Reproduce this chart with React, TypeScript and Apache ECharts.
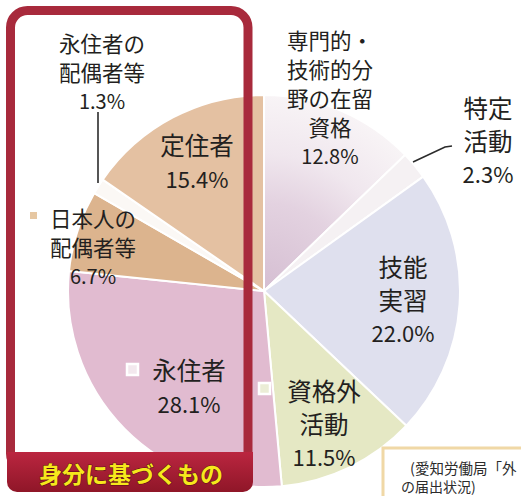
import React, { useEffect, useRef } from "react";
import * as echarts from "echarts";

// ---- data ----
const categories = [
  "専門的・\n技術的分\n野の在留\n資格",
  "特定\n活動",
  "技能\n実習",
  "資格外\n活動",
  "永住者",
  "日本人の\n配偶者等",
  "永住者の\n配偶者等",
  "定住者",
];
const shares = [12.8, 2.3, 22.0, 11.5, 28.1, 6.7, 1.3, 15.4];
const groupTitle = "身分に基づくもの";
const sourceLine1 = "(愛知労働局「外";
const sourceLine2 = "の届出状況)";

// ---- styles / positions ----
const CX = 264;
const CY = 291;
const R = 196;
const sliceColors: any[] = [
  {
    type: "radial",
    x: CX,
    y: CY,
    r: R,
    global: true,
    colorStops: [
      { offset: 0, color: "#d5bed2" },
      { offset: 0.45, color: "#e3d2e0" },
      { offset: 0.7, color: "#f0e7ee" },
      { offset: 1, color: "#f8f4f6" },
    ],
  },
  "#f5f1f3",
  "#dfe0ee",
  "#e5e8c4",
  "#e1bbd0",
  "#dcb48e",
  "#fbf8f5",
  "#e4c1a2",
];
const labelCenters = [
  [330, 97],
  [488, 140],
  [403, 299],
  [324, 423],
  [189, 386],
  [93, 246],
  [102, 71],
  [197, 161],
];
const labelBig = [false, true, true, true, true, false, false, true];

const FONT = '"Noto Sans CJK JP", "Noto Sans", sans-serif';

export default function App() {
  const ref = useRef<HTMLDivElement>(null);
  useEffect(() => {
    if (!ref.current) return;
    const chart = echarts.init(ref.current, undefined, { renderer: "svg" });
    const option: any = {
      animation: false,
      backgroundColor: "#ffffff",
      series: [
        {
          type: "pie",
          center: [CX, CY],
          radius: R,
          startAngle: 90,
          clockwise: true,
          silent: true,
          avoidLabelOverlap: false,
          z: 2,
          itemStyle: { borderColor: "#ffffff", borderWidth: 2 },
          emphasis: { disabled: true },
          labelLine: { show: false },
          label: {
            show: true,
            position: "inside",
            fontFamily: FONT,
            color: "#231f20",
            formatter: (p: any) => {
              const big = labelBig[p.dataIndex];
              const n = big ? "nb" : "ns";
              const pc = big ? "pb" : "ps";
              return (
                String(p.name)
                  .split("\n")
                  .map((l: string) => `{${n}|${l}}`)
                  .join("\n") + `\n{${pc}|${Number(p.value).toFixed(1)}%}`
              );
            },
            rich: {
              nb: { fontFamily: FONT, fontSize: 24.5, lineHeight: 33, color: "#231f20" },
              pb: { fontFamily: FONT, fontSize: 22, lineHeight: 33, color: "#231f20" },
              ns: { fontFamily: FONT, fontSize: 21.5, lineHeight: 29, color: "#231f20" },
              ps: { fontFamily: FONT, fontSize: 20, lineHeight: 29, color: "#231f20" },
            },
          },
          labelLayout: (params: any) => {
            const c = labelCenters[params.dataIndex];
            return { x: c[0], y: c[1], align: "center", verticalAlign: "middle" };
          },
          data: shares.map((v, i) => ({
            value: v,
            name: categories[i],
            itemStyle: { color: sliceColors[i] },
          })),
        },
      ],
      graphic: [
        // label leader lines
        {
          type: "line",
          z: 100,
          shape: { x1: 98, y1: 112, x2: 98, y2: 183 },
          style: { stroke: "#2b2b2b", lineWidth: 1.6 },
        },
        {
          type: "polyline",
          z: 100,
          shape: { points: [[413, 162], [445, 147], [452, 146]] },
          style: { stroke: "#2b2b2b", lineWidth: 1.6, fill: null },
        },
        // small swatches
        {
          type: "rect",
          z: 100,
          shape: { x: 30, y: 212, width: 7, height: 7 },
          style: { fill: "#e6c7a2" },
        },
        {
          type: "rect",
          z: 100,
          shape: { x: 127, y: 364, width: 11, height: 11 },
          style: { fill: "#f3e8ee", stroke: "#ffffff", lineWidth: 2.5 },
        },
        {
          type: "rect",
          z: 100,
          shape: { x: 259, y: 383, width: 11, height: 11 },
          style: { fill: "#ebedd6", stroke: "#ffffff", lineWidth: 2.5 },
        },
        // red frame
        {
          type: "rect",
          z: 100,
          shape: { x: 10.5, y: 10.5, width: 237.5, height: 460, r: 17 },
          style: { fill: null, stroke: "#a82a3c", lineWidth: 9 },
        },
        // bottom band
        {
          type: "rect",
          z: 101,
          shape: { x: 7, y: 452, width: 246, height: 40, r: [0, 0, 10, 10] },
          style: {
            fill: {
              type: "linear",
              x: 0,
              y: 0,
              x2: 0,
              y2: 1,
              colorStops: [
                { offset: 0, color: "#bb2640" },
                { offset: 1, color: "#8f1628" },
              ],
            },
          },
        },
        {
          type: "text",
          z: 102,
          x: 131,
          y: 473,
          style: {
            text: groupTitle,
            fontFamily: FONT,
            fontSize: 23,
            fontWeight: "bold",
            fill: "#f6e81c",
            stroke: "#5a0d15",
            lineWidth: 1,
            align: "center",
            verticalAlign: "middle",
          },
        },
        // source box
        {
          type: "rect",
          z: 100,
          shape: { x: 383, y: 448, width: 200, height: 100 },
          style: { fill: "#ffffff", stroke: "#f0d8a6", lineWidth: 3 },
        },
        {
          type: "text",
          z: 101,
          x: 410,
          y: 467,
          style: {
            text: sourceLine1,
            fontFamily: FONT,
            fontSize: 14.5,
            fill: "#2b2b2b",
            align: "left",
            verticalAlign: "middle",
          },
        },
        {
          type: "text",
          z: 101,
          x: 401,
          y: 486,
          style: {
            text: sourceLine2,
            fontFamily: FONT,
            fontSize: 14,
            fill: "#2b2b2b",
            align: "left",
            verticalAlign: "middle",
          },
        },
      ],
    };
    chart.setOption(option);
    return () => chart.dispose();
  }, []);
  return (
    <div
      ref={ref}
      style={{ position: "fixed", left: 0, top: 0, width: 521, height: 496, background: "#fff" }}
    />
  );
}
